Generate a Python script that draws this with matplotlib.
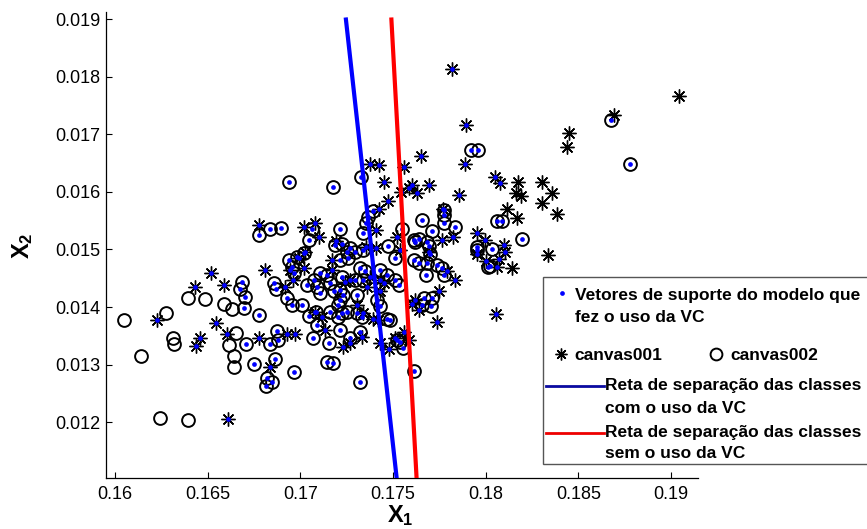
import matplotlib
matplotlib.use('Agg')
import matplotlib.pyplot as plt
from matplotlib.lines import Line2D
from matplotlib.patches import Rectangle
from matplotlib.ticker import FuncFormatter
import numpy as np

plt.rcParams['font.family'] = ['Liberation Sans', 'DejaVu Sans']
plt.rcParams['mathtext.fontset'] = 'custom'
plt.rcParams['mathtext.bf'] = 'Liberation Sans:bold'
plt.rcParams['mathtext.rm'] = 'Liberation Sans'
plt.rcParams['mathtext.it'] = 'Liberation Sans:italic'

# ---------------- data ----------------
# canvas001 (asterisks); sv flag = point is a support vector of the VC model
canvas001_x = [0.16228, 0.16461, 0.16439, 0.16434, 0.16520, 0.16587, 0.16546, 0.16605, 0.16808, 0.16779,
               0.16928, 0.16969, 0.16838, 0.16919, 0.16610, 0.16775, 0.17022, 0.17081, 0.17099, 0.16991,
               0.16961, 0.16946, 0.17018, 0.17023, 0.17374, 0.17426, 0.17562, 0.17652, 0.17818, 0.17895,
               0.17890, 0.17449, 0.17602, 0.17584, 0.17629, 0.17697, 0.17545, 0.17859, 0.17473, 0.17426,
               0.18051, 0.18078, 0.18177, 0.18306, 0.18164, 0.18190, 0.18360, 0.18303, 0.18118, 0.18171,
               0.18387, 0.18452, 0.18441, 0.19045, 0.18339, 0.18141, 0.18693, 0.18055, 0.17769, 0.17826,
               0.17764, 0.17697, 0.17794, 0.17836, 0.17751, 0.17737, 0.17956, 0.17994, 0.18100, 0.18105,
               0.17956, 0.18001, 0.18073, 0.18064, 0.17410, 0.17521, 0.17539, 0.17620, 0.17638, 0.17561,
               0.17584, 0.17481, 0.17431, 0.17602, 0.17194, 0.17171, 0.17356, 0.17410, 0.17243, 0.17270,
               0.17377, 0.17431, 0.17449, 0.17360, 0.17431, 0.17081, 0.17117, 0.17135, 0.17306, 0.17341,
               0.17333, 0.17233, 0.17270, 0.17395, 0.17422, 0.17512, 0.17171]
canvas001_y = [0.01377, 0.01347, 0.01332, 0.01435, 0.01459, 0.01438, 0.01373, 0.01353, 0.01464, 0.01346,
               0.01353, 0.01353, 0.01296, 0.01434, 0.01206, 0.01542, 0.01539, 0.01546, 0.01522, 0.01486,
               0.01447, 0.01464, 0.01467, 0.01496, 0.01649, 0.01647, 0.01644, 0.01662, 0.01814, 0.01716,
               0.01648, 0.01618, 0.01612, 0.01606, 0.01598, 0.01612, 0.01600, 0.01594, 0.01585, 0.01571,
               0.01626, 0.01616, 0.01618, 0.01618, 0.01598, 0.01593, 0.01598, 0.01580, 0.01570, 0.01554,
               0.01561, 0.01703, 0.01678, 0.01766, 0.01490, 0.01467, 0.01733, 0.01388, 0.01570, 0.01522,
               0.01516, 0.01496, 0.01463, 0.01447, 0.01428, 0.01374, 0.01528, 0.01516, 0.01508, 0.01496,
               0.01492, 0.01480, 0.01483, 0.01469, 0.01534, 0.01521, 0.01499, 0.01412, 0.01395, 0.01357,
               0.01343, 0.01327, 0.01337, 0.01406, 0.01515, 0.01482, 0.01505, 0.01502, 0.01444, 0.01447,
               0.01453, 0.01447, 0.01441, 0.01435, 0.01427, 0.01392, 0.01383, 0.01360, 0.01403, 0.01389,
               0.01348, 0.01331, 0.01337, 0.01380, 0.01377, 0.01346, 0.01464]
canvas001_sv = [1, 1, 1, 1, 1, 1, 1, 1, 1, 1,
                1, 1, 1, 1, 1, 1, 1, 1, 1, 1,
                1, 1, 1, 1, 1, 1, 1, 1, 1, 1,
                1, 1, 1, 1, 1, 1, 1, 1, 1, 1,
                1, 1, 0, 0, 0, 0, 0, 0, 0, 0,
                0, 0, 0, 0, 0, 0, 0, 1, 1, 1,
                1, 1, 1, 1, 1, 1, 1, 1, 1, 1,
                1, 1, 1, 1, 1, 1, 1, 1, 1, 1,
                1, 1, 1, 1, 1, 1, 1, 1, 1, 1,
                1, 1, 1, 1, 1, 1, 1, 1, 1, 1,
                1, 1, 1, 1, 1, 1, 1]

# canvas002 (circles)
canvas002_x = [0.16047, 0.16143, 0.16245, 0.16392, 0.16276, 0.16314, 0.16317, 0.16392, 0.16488, 0.16587,
               0.16632, 0.16655, 0.16613, 0.16640, 0.16640, 0.16686, 0.16673, 0.16704, 0.16698, 0.16779,
               0.16707, 0.16748, 0.16838, 0.16874, 0.16880, 0.16865, 0.16820, 0.16847, 0.16815, 0.16964,
               0.16856, 0.16869, 0.16937, 0.16838, 0.16896, 0.16775, 0.17174, 0.17329, 0.17395, 0.17364,
               0.17356, 0.17216, 0.17341, 0.17063, 0.17045, 0.17922, 0.17957, 0.18677, 0.18779, 0.18064,
               0.18086, 0.18195, 0.17656, 0.17776, 0.17773, 0.17776, 0.17836, 0.17710, 0.17548, 0.17683,
               0.17692, 0.17683, 0.17679, 0.17737, 0.17764, 0.17776, 0.17665, 0.17710, 0.17705, 0.17956,
               0.17953, 0.18033, 0.18024, 0.18015, 0.17471, 0.17512, 0.17611, 0.17638, 0.17611, 0.17638,
               0.17701, 0.17521, 0.17539, 0.17554, 0.17616, 0.17323, 0.17185, 0.17225, 0.17252, 0.17260,
               0.17270, 0.17297, 0.17338, 0.17512, 0.17530, 0.16937, 0.16955, 0.16964, 0.17036, 0.17072,
               0.17090, 0.17108, 0.16928, 0.16955, 0.17009, 0.17045, 0.17086, 0.17144, 0.17225, 0.17216,
               0.17216, 0.17233, 0.17216, 0.17306, 0.17297, 0.17323, 0.17350, 0.17431, 0.17467, 0.17341,
               0.17306, 0.17333, 0.17206, 0.17413, 0.17431, 0.17467, 0.17090, 0.17068, 0.17153, 0.17216,
               0.17270, 0.17323, 0.17144, 0.17176, 0.17206, 0.17225, 0.17162, 0.17656, 0.17485, 0.16982,
               0.17018, 0.17162, 0.17180, 0.17108, 0.17252, 0.17620]
canvas002_y = [0.01377, 0.01315, 0.01207, 0.01203, 0.01389, 0.01346, 0.01336, 0.01415, 0.01414, 0.01406,
               0.01397, 0.01355, 0.01334, 0.01315, 0.01295, 0.01444, 0.01431, 0.01418, 0.01399, 0.01386,
               0.01336, 0.01301, 0.01335, 0.01358, 0.01342, 0.01309, 0.01277, 0.01269, 0.01262, 0.01287,
               0.01441, 0.01431, 0.01618, 0.01535, 0.01537, 0.01525, 0.01608, 0.01626, 0.01567, 0.01557,
               0.01546, 0.01535, 0.01528, 0.01535, 0.01516, 0.01672, 0.01673, 0.01725, 0.01648, 0.01549,
               0.01549, 0.01518, 0.01552, 0.01568, 0.01560, 0.01546, 0.01539, 0.01532, 0.01535, 0.01513,
               0.01506, 0.01476, 0.01456, 0.01473, 0.01468, 0.01456, 0.01415, 0.01415, 0.01402, 0.01505,
               0.01499, 0.01501, 0.01471, 0.01469, 0.01506, 0.01486, 0.01516, 0.01519, 0.01482, 0.01477,
               0.01492, 0.01343, 0.01340, 0.01328, 0.01289, 0.01270, 0.01508, 0.01509, 0.01496, 0.01485,
               0.01502, 0.01496, 0.01499, 0.01447, 0.01438, 0.01482, 0.01469, 0.01459, 0.01438, 0.01447,
               0.01435, 0.01424, 0.01415, 0.01403, 0.01403, 0.01384, 0.01392, 0.01456, 0.01453, 0.01482,
               0.01430, 0.01421, 0.01412, 0.01421, 0.01447, 0.01467, 0.01463, 0.01464, 0.01456, 0.01447,
               0.01389, 0.01383, 0.01383, 0.01412, 0.01401, 0.01380, 0.01369, 0.01346, 0.01337, 0.01360,
               0.01346, 0.01357, 0.01305, 0.01302, 0.01403, 0.01389, 0.01392, 0.01403, 0.01377, 0.01487,
               0.01494, 0.01441, 0.01427, 0.01459, 0.01392, 0.01513]
canvas002_sv = [0] * 15 + [1] * (len(canvas002_x) - 15)

# separating lines (two points each)
line_vc_x = [0.17245, 0.17521]      # com o uso da VC (blue)
line_vc_y = [0.01903, 0.01100]
line_novc_x = [0.17491, 0.17628]    # sem o uso da VC (red)
line_novc_y = [0.01903, 0.01100]

xticks = [0.16, 0.165, 0.17, 0.175, 0.18, 0.185, 0.19]
yticks = [0.012, 0.013, 0.014, 0.015, 0.016, 0.017, 0.018, 0.019]

legend_labels = ['Vetores de suporte do modelo que', 'fez o uso da VC',
                 'canvas001', 'canvas002',
                 'Reta de separação das classes', 'com o uso da VC',
                 'Reta de separação das classes', 'sem o uso da VC']

# ---------------- figure ----------------
W, H = 867, 529
fig = plt.figure(figsize=(W / 100, H / 100), dpi=100)
ax = fig.add_axes([105.7 / W, 1 - 478 / H, (698 - 105.7) / W, (478 - 11.7) / H])

ASTER = (8, 2, 0)
ax.plot(canvas001_x, canvas001_y, linestyle='none', marker=ASTER, markersize=10,
        markeredgecolor='black', markeredgewidth=1.0, color='black', zorder=2)
ax.plot(canvas002_x, canvas002_y, linestyle='none', marker='o', markersize=9.2,
        markerfacecolor='none', markeredgecolor='black', markeredgewidth=1.4, zorder=2)

sv_x = [x for x, s in zip(canvas001_x, canvas001_sv) if s] + [x for x, s in zip(canvas002_x, canvas002_sv) if s]
sv_y = [y for y, s in zip(canvas001_y, canvas001_sv) if s] + [y for y, s in zip(canvas002_y, canvas002_sv) if s]
ax.plot(sv_x, sv_y, linestyle='none', marker='o', markersize=3.4,
        markerfacecolor='#0000ff', markeredgecolor='none', zorder=3)

ax.plot(line_vc_x, line_vc_y, color='#0000ff', linewidth=3, zorder=4, solid_capstyle='butt')
ax.plot(line_novc_x, line_novc_y, color='#ff0000', linewidth=3, zorder=4, solid_capstyle='butt')

ax.set_xlim(0.1595, 0.19146)
ax.set_ylim(0.01103, 0.01913)
ax.set_xticks(xticks)
ax.set_yticks(yticks)
fmt = FuncFormatter(lambda v, p: '%g' % v)
ax.xaxis.set_major_formatter(fmt)
ax.yaxis.set_major_formatter(fmt)
for s in ['top', 'right']:
    ax.spines[s].set_visible(False)
for s in ['left', 'bottom']:
    ax.spines[s].set_linewidth(0.9)
ax.tick_params(direction='in', length=4.5, width=0.8, labelsize=13)
ax.tick_params(axis='x', pad=6)
ax.tick_params(axis='y', pad=4)

fig.text(400 / W, 1 - 516 / H, r'$\mathbf{X_1}$', fontsize=17, ha='center', va='center')
fig.text(23 / W, 1 - 246 / H, r'$\mathbf{X_2}$', fontsize=17, ha='center', va='center', rotation=90)

# ---------------- legend (manual) ----------------
def fp(px, py):
    return (px / W, 1 - py / H)

box = Rectangle(fp(543, 464), (900 - 543) / W, (464 - 277) / H, transform=fig.transFigure,
                facecolor='white', edgecolor='#555555', linewidth=1.0, zorder=5)
fig.patches.append(box)

LFS = 12.5
tkw = dict(fontsize=LFS, fontweight='bold', ha='left', va='baseline', zorder=6)
fig.lines.append(Line2D([fp(562, 0)[0]], [fp(0, 293)[1]], transform=fig.transFigure, linestyle='none',
                        marker='o', markersize=3.4, markerfacecolor='#0000ff', markeredgecolor='none', zorder=6))
fig.text(*fp(575, 300), legend_labels[0], **tkw)
fig.text(*fp(575, 321.5), legend_labels[1], **tkw)

fig.lines.append(Line2D([fp(561, 0)[0]], [fp(0, 354)[1]], transform=fig.transFigure, linestyle='none',
                        marker=ASTER, markersize=8.5, markeredgecolor='black', markeredgewidth=1.0, zorder=6))
fig.text(*fp(574, 360), legend_labels[2], **tkw)
fig.lines.append(Line2D([fp(716, 0)[0]], [fp(0, 354)[1]], transform=fig.transFigure, linestyle='none',
                        marker='o', markersize=8.5, markerfacecolor='none', markeredgecolor='black',
                        markeredgewidth=1.4, zorder=6))
fig.text(*fp(730, 360), legend_labels[3], **tkw)

fig.lines.append(Line2D([fp(546, 0)[0], fp(604, 0)[0]], [fp(0, 386)[1]] * 2, transform=fig.transFigure,
                        color='#0a0aa0', linewidth=2.0, zorder=6))
fig.text(*fp(605, 390), legend_labels[4], **tkw)
fig.text(*fp(605, 413), legend_labels[5], **tkw)

fig.lines.append(Line2D([fp(546, 0)[0], fp(604, 0)[0]], [fp(0, 433)[1]] * 2, transform=fig.transFigure,
                        color='#ee0000', linewidth=2.0, zorder=6))
fig.text(*fp(605, 437), legend_labels[6], **tkw)
fig.text(*fp(605, 458.5), legend_labels[7], **tkw)

fig.savefig('out.png', dpi=100)
